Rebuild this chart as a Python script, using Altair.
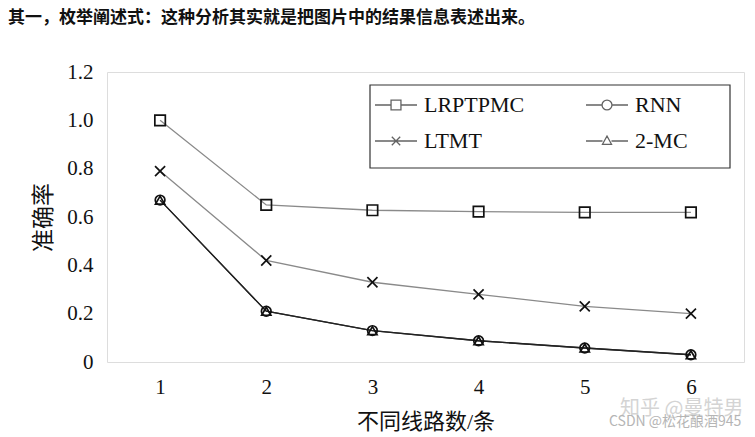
import altair as alt
import pandas as pd

# ---- data ----
routes = [1, 2, 3, 4, 5, 6]
series = ["LRPTPMC", "LTMT", "RNN", "2-MC"]
lrptpmc = [1.00, 0.65, 0.628, 0.622, 0.619, 0.619]
ltmt = [0.79, 0.42, 0.33, 0.28, 0.23, 0.20]
rnn = [0.67, 0.21, 0.13, 0.088, 0.058, 0.03]
mc2 = [0.67, 0.21, 0.13, 0.088, 0.058, 0.03]
y_ticks = [0, 0.2, 0.4, 0.6, 0.8, 1.0, 1.2]

title_text = "其一，枚举阐述式：这种分析其实就是把图片中的结果信息表述出来。"
x_title = "不同线路数/条"
y_title = "准确率"
wm_text1 = "知乎 @曼特男"
wm_text2 = "CSDN @松花酿酒945"

rows = []
for name, vals in [("LRPTPMC", lrptpmc), ("LTMT", ltmt), ("RNN", rnn), ("2-MC", mc2)]:
    for r, v in zip(routes, vals):
        rows.append({"route": r, "acc": v, "series": name})
df = pd.DataFrame(rows)

serif = "Liberation Serif, Noto Sans CJK SC"

x_enc = alt.X("route:Q", scale=alt.Scale(domain=[0.5, 6.5], nice=False, zero=False),
              axis=alt.Axis(values=routes, title=x_title, grid=False, ticks=False, tickSize=0,
                            domain=False, labelFont=serif, labelFontSize=21, labelColor="#111",
                            labelPadding=14, titleFont=serif, titleFontSize=22,
                            titleFontWeight="normal", titleColor="#111", titlePadding=14))
y_enc = alt.Y("acc:Q", scale=alt.Scale(domain=[0, 1.2], nice=False),
              axis=alt.Axis(values=y_ticks, title=y_title, grid=False, ticks=False, tickSize=0,
                            domain=False, labelFont=serif, labelFontSize=21, labelColor="#111",
                            labelPadding=14,
                            labelExpr="datum.value == 0 ? '0' : format(datum.value, '.1f')",
                            titleFont=serif, titleFontSize=23, titleFontWeight="normal",
                            titleColor="#111", titlePadding=11))

base = alt.Chart(df)

lines = base.mark_line(strokeWidth=1.3).encode(
    x=x_enc, y=y_enc, detail="series:N",
    color=alt.Color("series:N", scale=alt.Scale(domain=series,
                    range=["#8a8a8a", "#8a8a8a", "#333333", "#222222"]), legend=None),
)

x_path = "M-1,-1L1,1M-1,1L1,-1"
points = base.mark_point(filled=False, stroke="#111", strokeWidth=1.7, opacity=1).encode(
    x=x_enc, y=y_enc,
    shape=alt.Shape("series:N", scale=alt.Scale(domain=series,
                    range=["square", x_path, "circle", "triangle-up"]), legend=None),
    size=alt.Size("series:N", scale=alt.Scale(domain=series, range=[110, 85, 175, 55]), legend=None),
)

leg_paths = [
    "M-1,0H0.07M0.73,0H1.8M0.07,-0.33H0.73V0.33H0.07Z",
    "M-1,0H1.8M0.12,-0.28L0.68,0.28M0.12,0.28L0.68,-0.28",
    "M-1,0H0.07M0.73,0H1.8M0.07,0A0.33,0.33,0,1,0,0.73,0A0.33,0.33,0,1,0,0.07,0",
    "M-1,0H0.1M0.7,0H1.8M0.4,-0.33L0.7,0.22H0.1Z",
]
legend_layer = base.mark_point(filled=False, stroke="#222", strokeWidth=1.3).encode(
    x=x_enc, y=y_enc,
    shape=alt.Shape("series:N", scale=alt.Scale(domain=series, range=leg_paths),
                    legend=alt.Legend(title=None, orient="none", legendX=263, legendY=13,
                                      columns=2, columnPadding=58, rowPadding=9,
                                      symbolSize=900, symbolStrokeWidth=1.3,
                                      symbolStrokeColor="#222", symbolFillColor="transparent",
                                      labelFont=serif, labelFontSize=22, labelColor="#111",
                                      labelOffset=18, padding=4)),
).transform_filter("false")

# frame around the legend
legend_frame = alt.Chart(pd.DataFrame({"k": [0]})).mark_rect(
    fill="white", fillOpacity=0, stroke="#333", strokeWidth=1.2
).encode(x=alt.value(263), x2=alt.value(623), y=alt.value(13), y2=alt.value(96))

wm1 = alt.Chart(pd.DataFrame({"t": [wm_text1]})).mark_text(
    align="left", baseline="middle", font="Noto Sans CJK SC", fontSize=20, color="#d4d4d4"
).encode(x=alt.value(513), y=alt.value(337), text="t:N")
wm2 = alt.Chart(pd.DataFrame({"t": [wm_text2]})).mark_text(
    align="left", baseline="middle", font="Noto Sans CJK SC", fontSize=14, color="#b5b5b5"
).encode(x=alt.value(502), y=alt.value(350), text="t:N")

chart = alt.layer(lines, points, legend_layer, legend_frame, wm1, wm2).resolve_scale(
    shape="independent"
).properties(
    width=637, height=290,
    title=alt.TitleParams(title_text, anchor="start", frame="group", dx=-99, offset=34,
                          font="Noto Sans CJK SC", fontSize=17, fontWeight="bold", color="#111"),
    autosize=alt.AutoSizeParams(type="none"),
    padding={"left": 99, "top": 64, "right": 3, "bottom": 70},
).configure_view(stroke="#111", strokeWidth=1.6).configure(background="white")

chart.save("out.html", embed_options={"renderer": "svg", "actions": False})
